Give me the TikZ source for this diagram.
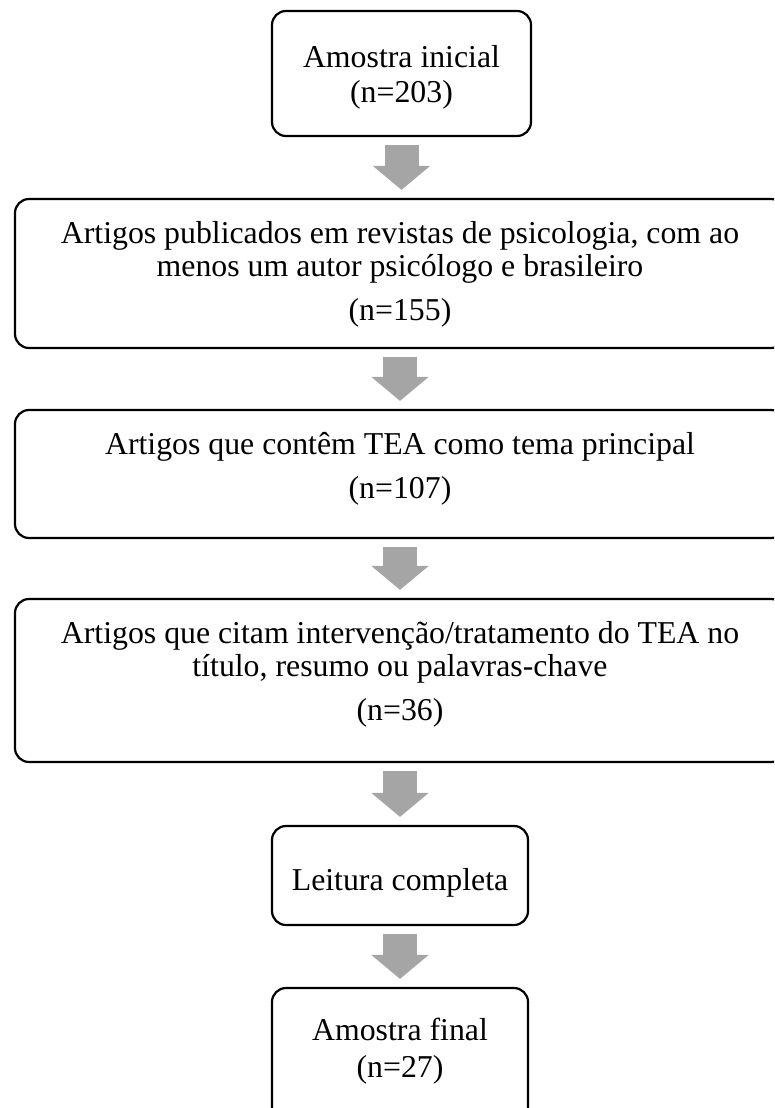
\documentclass[tikz,border=0pt]{standalone}
\usepackage{fontspec}
\setmainfont{Liberation Serif}
\usetikzlibrary{arrows.meta}
\definecolor{arrowgray}{HTML}{A5A5A5}
\tikzset{
  box/.style={draw=black, line width=2.2pt, rounded corners=14pt, fill=white, inner sep=0pt},
  txt/.style={anchor=base, inner sep=0pt, font=\fontsize{31.8}{36}\selectfont},
  blockarrow/.style={draw=arrowgray, line width=34pt, shorten <=8pt, shorten >=8pt,
    -{Triangle[length=24pt, width=56pt]}}
}
\begin{document}
\begin{tikzpicture}[x=1pt, y=-1pt]
\useasboundingbox (0,0) rectangle (774,1108);
\clip (0,0) rectangle (774,1108);
% boxes
\node[box, minimum width=259pt, minimum height=125pt] (b1) at (401.5,73.5) {};
\node[box, minimum width=770pt, minimum height=149pt] (b2) at (400,273.5) {};
\node[box, minimum width=770pt, minimum height=128pt] (b3) at (400,474) {};
\node[box, minimum width=770pt, minimum height=163pt] (b4) at (400,680.5) {};
\node[box, minimum width=256pt, minimum height=99pt] (b5) at (400,875.5) {};
\node[box, minimum width=256pt, minimum height=150pt] (b6) at (400,1063) {};
% texts
\node[txt] (t1a) at (401.5,67) {Amostra inicial};
\node[txt] (t1b) at (401.5,102) {(n=203)};
\node[txt] (t2a) at (400,243) {Artigos publicados em revistas de psicologia, com ao};
\node[txt] (t2b) at (400,276) {menos um autor psicólogo e brasileiro};
\node[txt] (t2c) at (400,320) {(n=155)};
\node[txt] (t3a) at (400,454) {Artigos que contêm TEA como tema principal};
\node[txt] (t3b) at (400,498) {(n=107)};
\node[txt] (t4a) at (400,643) {Artigos que citam intervenção/tratamento do TEA no};
\node[txt] (t4b) at (400,676) {título, resumo ou palavras-chave};
\node[txt] (t4c) at (400,720) {(n=36)};
\node[txt] (t5a) at (400,890) {Leitura completa};
\node[txt] (t6a) at (400,1040) {Amostra final};
\node[txt] (t6b) at (400,1077) {(n=27)};
% arrows
\draw[blockarrow] (b1.south) -- (b1.south |- b2.north);
\draw[blockarrow] (b2.south) -- (b3.north);
\draw[blockarrow] (b3.south) -- (b4.north);
\draw[blockarrow] (b4.south) -- (b5.north);
\draw[blockarrow] (b5.south) -- (b6.north);
\end{tikzpicture}
\end{document}
